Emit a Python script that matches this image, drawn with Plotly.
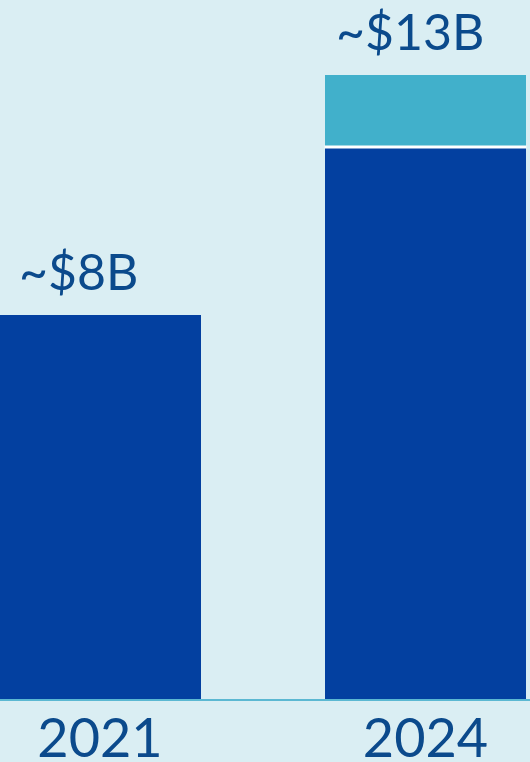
import plotly.graph_objects as go

years = ["2021", "2024"]
core_values = [8.0, 11.5]
added_values = [0.0, 1.5]
total_labels = ["~$8B", "~$13B"]

BG = "#DAEEF3"
DARK = "#0340A0"
LIGHT = "#41B0CB"
TEXT = "#0B4A8C"
FONT = "Lato"
BAR_W = 0.62

fig = go.Figure()
fig.add_trace(go.Bar(x=years, y=core_values, width=BAR_W,
                     marker=dict(color=DARK, line=dict(width=0)),
                     hoverinfo="skip"))
fig.add_trace(go.Bar(x=[years[i] for i in range(len(years)) if added_values[i] > 0],
                     y=[v for v in added_values if v > 0], width=BAR_W,
                     marker=dict(color=LIGHT, line=dict(width=0)),
                     hoverinfo="skip"))

# white separator between stacked segments
for i, v in enumerate(added_values):
    if v > 0:
        fig.add_shape(type="line", xref="x", yref="y",
                      x0=i - BAR_W / 2, x1=i + BAR_W / 2,
                      y0=core_values[i], y1=core_values[i],
                      line=dict(color="white", width=3))

shifts = [-22, -16]
for i, lab in enumerate(total_labels):
    fig.add_annotation(x=i, y=core_values[i] + added_values[i],
                       text=lab, showarrow=False, yanchor="bottom",
                       xshift=shifts[i], yshift=12,
                       font=dict(family=FONT, size=50, color=TEXT))

fig.update_layout(
    width=530, height=762,
    margin=dict(l=0, r=0, t=0, b=63, autoexpand=False),
    paper_bgcolor=BG, plot_bgcolor=BG,
    barmode="stack", showlegend=False, bargap=0,
)
fig.update_xaxes(type="category", range=[-0.3072, 1.321], automargin=False,
                 showline=True, linecolor="#5BB8D2", linewidth=1.5,
                 showgrid=False, zeroline=False, ticks="",
                 tickfont=dict(family=FONT, size=54, color=TEXT),
                 ticklabelstandoff=-9)
fig.update_yaxes(range=[0, 699 / 48.0], visible=False, showgrid=False,
                 automargin=False)

fig.write_html("out.html", config={"displayModeBar": False},
               post_script="document.body.style.margin='0';document.body.style.overflow='hidden';")
